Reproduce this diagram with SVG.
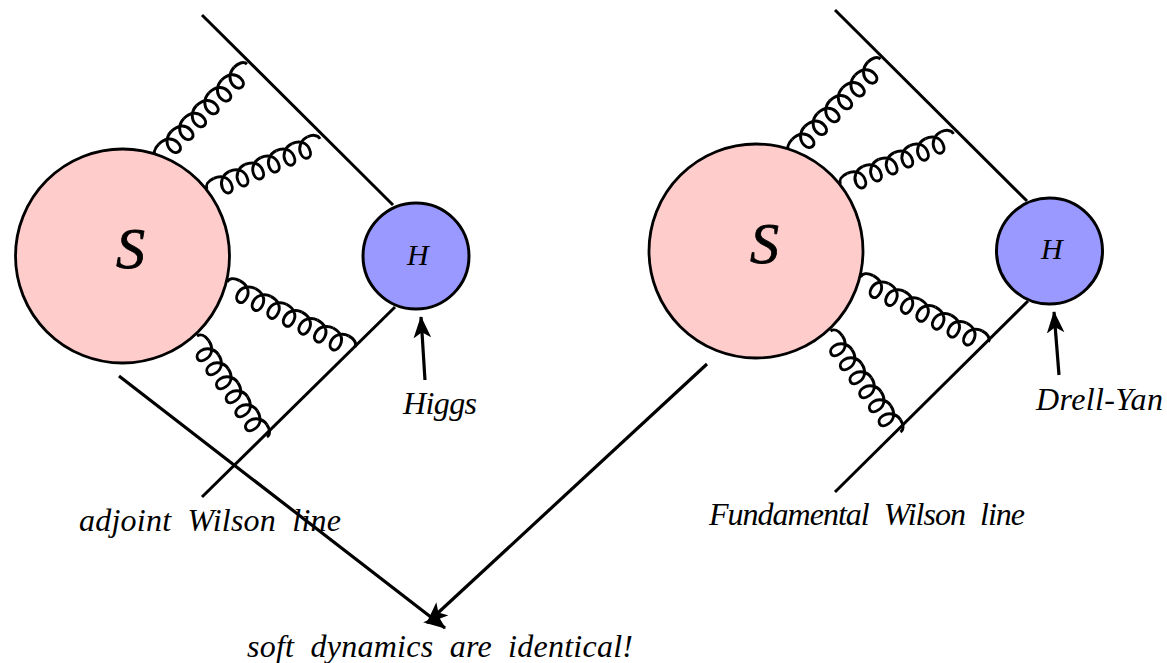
<svg xmlns="http://www.w3.org/2000/svg" width="1167" height="663" viewBox="0 0 1167 663">
<style>
text{font-family:"Liberation Serif","Times New Roman",serif;font-style:italic;fill:#000}
.l{font-size:32px;word-spacing:8px}
.s{font-size:58px;stroke:#000;stroke-width:.8}
.h{font-size:30px}
.big{fill:#fcc;stroke:#000;stroke-width:2.8}
.small{fill:#99f;stroke:#000;stroke-width:3}
.w{fill:none;stroke:#000;stroke-width:3}
.a{fill:none;stroke:#000;stroke-width:3.2}
.g{fill:none;stroke:#000;stroke-width:3;stroke-linejoin:round}
</style>
<defs>
<marker id="st" viewBox="0 0 20 16" refX="19" refY="8" markerUnits="userSpaceOnUse" markerWidth="22" markerHeight="18" orient="auto"><path d="M20,8 L0,0 L5,8 L0,16 Z" fill="#000"/></marker>
<path id="c" d="M0,-7 C9,-7 14.500,-2 14.500,5 C14.500,9.500 12.500,12.500 9.500,12.500 C6.500,12.500 4.200,9.500 4.200,5.500 C4.200,-1 10,-7 18,-7"/>
<g id="g6" class="g">
<path d="M0,0 C0,-4 4,-7 11,-7" fill="none"/>
<use href="#c" x="11"/><use href="#c" x="29"/><use href="#c" x="47"/><use href="#c" x="65"/><use href="#c" x="83"/><use href="#c" x="101"/>
<path d="M119,-7 C124,-7 130,-5 130,0" fill="none"/>
</g>
<g id="g7" class="g">
<path d="M0,0 C0,-4 4,-7 11,-7" fill="none"/>
<use href="#c" x="11"/><use href="#c" x="29"/><use href="#c" x="47"/><use href="#c" x="65"/><use href="#c" x="83"/><use href="#c" x="101"/><use href="#c" x="119"/>
<path d="M137,-7 C142,-7 148,-5 148,0" fill="none"/>
</g>
</defs>
<g id="connectors">
<path class="w" d="M202,15 L393,205"/>
<path class="w" d="M395,307 L202,497"/>
<path class="w" d="M835,10 L1027,201"/>
<path class="w" d="M1028,301 L835,492"/>
<use href="#g6" transform="translate(156,157) rotate(-45.600)"/>
<use href="#g6" transform="translate(207,189) rotate(-23.900) scale(.951,1)"/>
<use href="#g7" transform="translate(227,282) rotate(26.900) scale(.97,1)"/>
<use href="#g6" transform="translate(197,336) rotate(55.300) scale(.946,1)"/>
<use href="#g6" transform="translate(789.500,152) rotate(-45.600)"/>
<use href="#g6" transform="translate(840.500,184) rotate(-23.900) scale(.951,1)"/>
<use href="#g7" transform="translate(860.500,277) rotate(26.900) scale(.97,1)"/>
<use href="#g6" transform="translate(830.500,331) rotate(55.300) scale(.946,1)"/>
<path class="a" marker-end="url(#st)" d="M425,380 L421,317"/>
<path class="a" marker-end="url(#st)" d="M1059,375 L1054,312"/>
<path class="a" marker-end="url(#st)" d="M119,376 L445,628"/>
<path class="a" marker-end="url(#st)" d="M707,364 L427,623"/>
</g>
<g id="node-s-left"><circle class="big" cx="122.500" cy="256" r="107"/><text class="s" x="116" y="268">S</text></g>
<g id="node-h-left"><circle class="small" cx="416" cy="256" r="53"/><text class="h" x="407" y="265">H</text></g>
<g id="node-s-right"><circle class="big" cx="756" cy="251" r="107"/><text class="s" x="750" y="263">S</text></g>
<g id="node-h-right"><circle class="small" cx="1049.500" cy="251" r="53"/><text class="h" x="1041" y="259">H</text></g>
<g id="labels">
<text class="l" x="403" y="414" textLength="74">Higgs</text>
<text class="l" x="1036" y="410" textLength="127">Drell-Yan</text>
<text class="l" x="79" y="531" textLength="262">adjoint Wilson line</text>
<text class="l" x="709" y="525" textLength="316">Fundamental Wilson line</text>
<text class="l" x="247" y="657" textLength="386">soft dynamics are identical!</text>
</g>
</svg>
